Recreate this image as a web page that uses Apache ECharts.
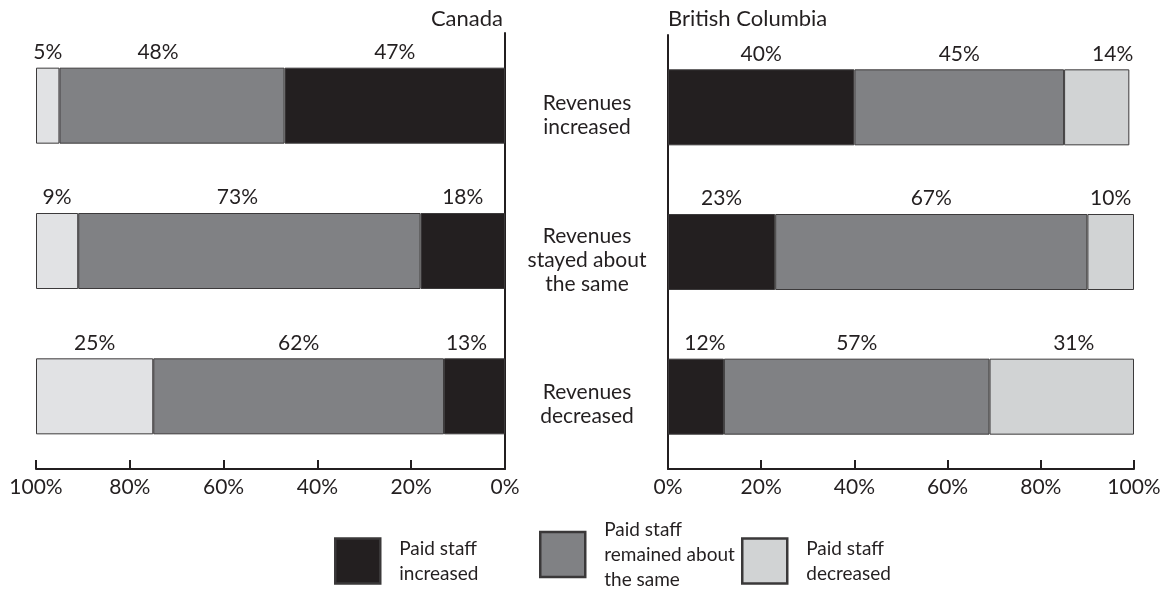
<!DOCTYPE html>
<html>
<head>
<meta charset="utf-8">
<script src="https://cdn.jsdelivr.net/npm/echarts@6/dist/echarts.min.js"></script>
<style>
  html, body { margin: 0; padding: 0; background: #ffffff; }
  #chart { width: 1166px; height: 594px; }
</style>
</head>
<body>
<div id="chart"></div>
<script>
// Revenue change vs. paid staff change, Canada and British Columbia (percent of organizations)
const categories = ['Revenues\nincreased', 'Revenues\nstayed about\nthe same', 'Revenues\ndecreased'];
const seriesNames = ['Paid staff increased', 'Paid staff remained about the same', 'Paid staff decreased'];
const legendLabels = ['Paid staff\nincreased', 'Paid staff\nremained about\nthe same', 'Paid staff\ndecreased'];

const canadaIncreased = [47, 18, 13];
const canadaSame      = [48, 73, 62];
const canadaDecreased = [5, 9, 25];

const bcIncreased = [40, 23, 12];
const bcSame      = [45, 67, 57];
const bcDecreased = [14, 10, 31];

const panelTitles = ['Canada', 'British Columbia'];

const FONT = 'Lato, "Open Sans", sans-serif';
const INK = '#231f20';
const colDark = '#231f20';
const colMid = '#808184';
const colLightCa = '#e1e2e4';
const colLightBc = '#d1d3d4';

// horizontal nudges (px) for a few value labels, keyed by series/category
const labelNudge = {
  'ca-1-0': -14, 'ca-1-1': -12, 'ca-0-2': -8,
  'bc-2-0': 16, 'bc-0-2': 9, 'bc-2-2': 12
};

const chart = echarts.init(document.getElementById('chart'));

function barSeries(key, sIdx, data, color, gridIdx) {
  return {
    type: 'bar',
    name: seriesNames[sIdx],
    stack: 'panel' + gridIdx,
    xAxisIndex: gridIdx,
    yAxisIndex: gridIdx,
    barWidth: 76,
    data: data.map(function (v, i) {
      const dx = labelNudge[key + '-' + sIdx + '-' + i] || 0;
      return { value: v, label: { offset: [dx, 0] } };
    }),
    itemStyle: { color: color, borderColor: '#3c3a3b', borderWidth: 1 },
    label: {
      show: true,
      position: 'top',
      distance: 5,
      formatter: '{c}%',
      color: INK,
      fontFamily: FONT,
      fontSize: 21
    },
    emphasis: { disabled: true }
  };
}

function valueAxis(gridIdx, inverse) {
  return {
    type: 'value',
    gridIndex: gridIdx,
    min: 0,
    max: 100,
    interval: 20,
    inverse: inverse,
    splitLine: { show: false },
    axisLine: { show: true, lineStyle: { color: INK, width: 2 } },
    axisTick: { show: true, inside: true, length: 9, lineStyle: { color: INK, width: 2 } },
    axisLabel: {
      formatter: '{value}%',
      color: INK,
      fontFamily: FONT,
      fontSize: 21,
      margin: 8
    }
  };
}

function legendBlock(idx, left, top, color) {
  return {
    left: left,
    top: top,
    orient: 'horizontal',
    padding: 0,
    itemWidth: 45,
    itemHeight: 45,
    selectedMode: false,
    icon: 'rect',
    data: [{
      name: seriesNames[idx],
      itemStyle: { color: color, borderColor: '#3a3839', borderWidth: 2.5 }
    }],
    formatter: function () { return legendLabels[idx]; },
    textStyle: {
      color: INK,
      fontFamily: FONT,
      fontSize: 19,
      lineHeight: 25,
      padding: [0, 0, 0, 14]
    }
  };
}

chart.setOption({
  animation: false,
  title: [
    { text: panelTitles[0], right: 663, top: 8, padding: 0,
      textStyle: { color: INK, fontFamily: FONT, fontSize: 22, fontWeight: 'normal' } },
    { text: panelTitles[1], left: 668, top: 8, padding: 0,
      textStyle: { color: INK, fontFamily: FONT, fontSize: 22, fontWeight: 'normal' } }
  ],
  grid: [
    { left: 36, right: 1166 - 505, top: 33, bottom: 594 - 469 },
    { left: 668, right: 1166 - 1134, top: 35, bottom: 594 - 469 },
    // carries the row captions between the two panels
    { left: 668, right: 1166 - 1134, top: 43, bottom: 594 - 477 }
  ],
  xAxis: [
    valueAxis(0, true),
    valueAxis(1, false),
    { type: 'value', gridIndex: 2, min: 0, max: 100, show: false }
  ],
  yAxis: [
    {
      type: 'category',
      gridIndex: 0,
      data: categories,
      inverse: true,
      position: 'right',
      axisLine: { show: true, lineStyle: { color: INK, width: 2 } },
      axisTick: { show: false },
      axisLabel: { show: false }
    },
    {
      type: 'category',
      gridIndex: 1,
      data: categories,
      inverse: true,
      position: 'left',
      axisLine: { show: true, lineStyle: { color: INK, width: 2 } },
      axisTick: { show: false },
      axisLabel: { show: false }
    },
    {
      type: 'category',
      gridIndex: 2,
      data: categories,
      inverse: true,
      position: 'left',
      axisLine: { show: false },
      axisTick: { show: false },
      splitLine: { show: false },
      axisLabel: {
        show: true,
        align: 'center',
        margin: 81,
        color: INK,
        fontFamily: FONT,
        fontSize: 21,
        lineHeight: 24
      }
    }
  ],
  legend: [
    legendBlock(0, 334, 536, colDark),
    legendBlock(1, 539, 517, colMid),
    legendBlock(2, 741, 536, colLightBc)
  ],
  series: [
    barSeries('ca', 0, canadaIncreased, colDark, 0),
    barSeries('ca', 1, canadaSame, colMid, 0),
    barSeries('ca', 2, canadaDecreased, colLightCa, 0),
    barSeries('bc', 0, bcIncreased, colDark, 1),
    barSeries('bc', 1, bcSame, colMid, 1),
    barSeries('bc', 2, bcDecreased, colLightBc, 1)
  ]
});
</script>
</body>
</html>
